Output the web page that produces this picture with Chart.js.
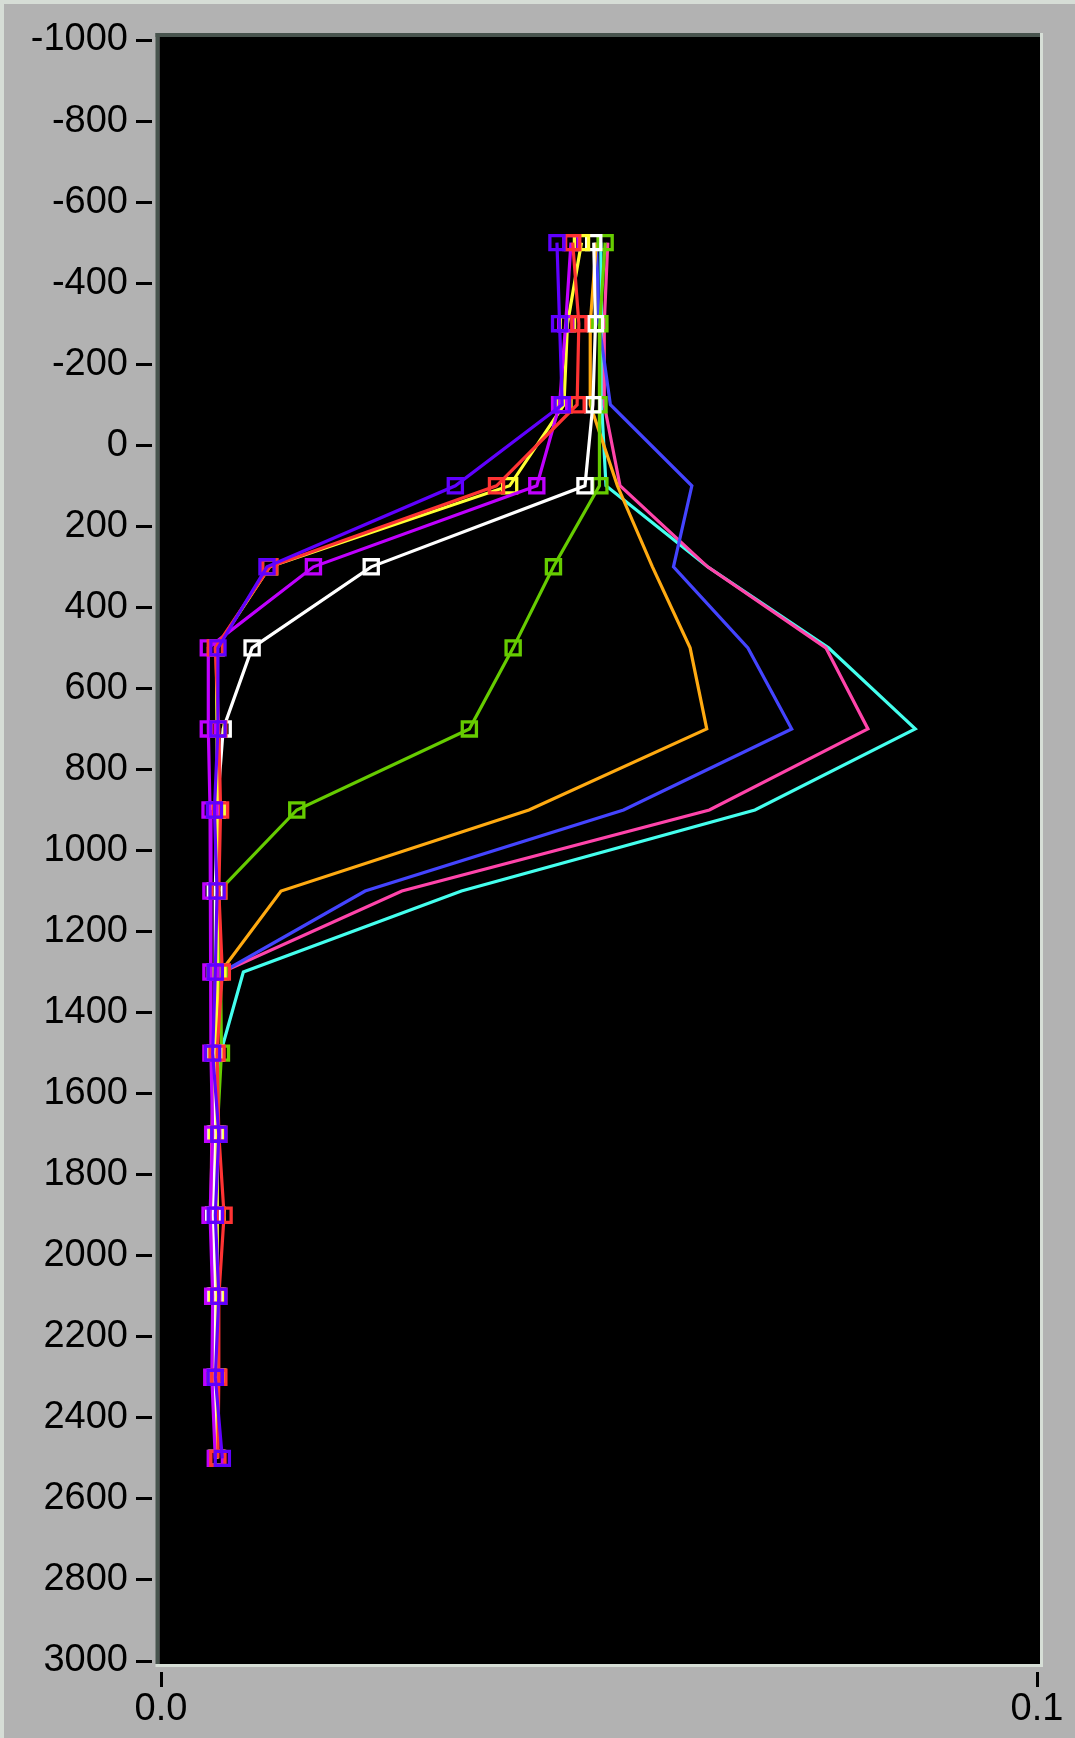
<!DOCTYPE html>
<html>
<head>
<meta charset="utf-8">
<script src="https://cdn.jsdelivr.net/npm/chart.js@4.4.1/dist/chart.umd.min.js"></script>
<style>
  html, body { margin: 0; padding: 0; background: #b2b2b2; }
  canvas { display: block; }
</style>
</head>
<body>
<canvas id="profile" width="1075" height="1738"></canvas>
<script>
// Depth stations (vertical axis, grows downward)
const depths = [-500, -300, -100, 100, 300, 500, 700, 900, 1100, 1300, 1500, 1700, 1900, 2100, 2300, 2500];

// Profiles drawn with square markers
const violetProfile  = [0.0452, 0.0455, 0.0458, 0.0336, 0.0121, 0.0065, 0.0065, 0.0061, 0.0064, 0.0062, 0.0059, 0.0066, 0.0062, 0.0066, 0.0062, 0.0070];
const magentaProfile = [0.0468, 0.0462, 0.0455, 0.0429, 0.0174, 0.0054, 0.0054, 0.0056, 0.0057, 0.0057, 0.0057, 0.0059, 0.0056, 0.0059, 0.0058, 0.0062];
const redProfile     = [0.0470, 0.0477, 0.0475, 0.0383, 0.0124, 0.0062, 0.0066, 0.0068, 0.0066, 0.0070, 0.0064, 0.0066, 0.0072, 0.0066, 0.0066, 0.0065];
const yellowProfile  = [0.0480, 0.0464, 0.0460, 0.0398, 0.0124, 0.0063, 0.0064, 0.0064, 0.0064, 0.0065, 0.0063, 0.0064, 0.0064, 0.0064, 0.0065, 0.0064];
const whiteProfile   = [0.0494, 0.0496, 0.0493, 0.0484, 0.0240, 0.0104, 0.0071, 0.0064, 0.0062, 0.0062, 0.0062, 0.0062, 0.0060, 0.0062, 0.0062, 0.0063];
const greenProfile   = [0.0507, 0.0501, 0.0500, 0.0501, 0.0448, 0.0402, 0.0352, 0.0155, 0.0066, 0.0068, 0.0069, 0.0064, 0.0063, 0.0064, 0.0064, 0.0064];

// Profiles drawn as plain lines
const orangeProfile  = [0.0497, 0.0490, 0.0490, 0.0521, 0.0561, 0.0604, 0.0623, 0.0420, 0.0137, 0.0068, 0.0059, 0.0060, 0.0061, 0.0062, 0.0060, 0.0063];
const blueProfile    = [0.0497, 0.0500, 0.0513, 0.0606, 0.0585, 0.0670, 0.0720, 0.0528, 0.0233, 0.0070, 0.0061, 0.0063, 0.0062, 0.0063, 0.0063, 0.0064];
const pinkProfile    = [0.0510, 0.0506, 0.0506, 0.0524, 0.0624, 0.0759, 0.0807, 0.0626, 0.0275, 0.0070, 0.0060, 0.0058, 0.0057, 0.0060, 0.0062, 0.0063];
const cyanProfile    = [0.0502, 0.0503, 0.0503, 0.0508, 0.0624, 0.0762, 0.0861, 0.0678, 0.0343, 0.0094, 0.0068, 0.0062, 0.0062, 0.0063, 0.0063, 0.0064];

// Axis ticks
const xTickValues = [0, 0.1];
const yTickValues = [-1000, -800, -600, -400, -200, 0, 200, 400, 600, 800, 1000, 1200, 1400,
                     1600, 1800, 2000, 2200, 2400, 2600, 2800, 3000];

const FONT = { family: '"Liberation Sans", Arial, sans-serif', size: 38 };

function profileDataset(values, color, withMarkers) {
  return {
    data: values.map((v, i) => ({ x: v, y: depths[i] })),
    showLine: true,
    borderColor: color,
    borderWidth: 3.2,
    tension: 0,
    pointStyle: 'rect',
    pointRadius: withMarkers ? 10 : 0,
    pointHoverRadius: withMarkers ? 10 : 0,
    pointBorderWidth: 3.3,
    pointBorderColor: color,
    pointBackgroundColor: 'rgba(0,0,0,0)'
  };
}

// Grey panel, bevelled black plot well
const panelFrame = {
  id: 'panelFrame',
  beforeDraw(chart) {
    const { ctx, chartArea: a, width, height } = chart;
    ctx.save();
    ctx.fillStyle = '#b2b2b2';
    ctx.fillRect(0, 0, width, height);
    ctx.fillStyle = '#d6ddd6';
    ctx.fillRect(0, 0, width, 4);
    ctx.fillRect(0, 0, 4, height);
    const L = a.left - 1.5, T = a.top - 3, R = a.right + 3, B = a.bottom + 3;
    ctx.fillStyle = '#48544e';
    ctx.fillRect(L - 4, T - 4, R - L + 4, 4);
    ctx.fillRect(L - 4, T - 4, 4, B - T + 4);
    ctx.fillStyle = '#d6ded6';
    ctx.fillRect(R, T - 4, 3, B - T + 7);
    ctx.fillRect(L - 4, B, R - L + 7, 3);
    ctx.fillStyle = '#000000';
    ctx.fillRect(L, T, R - L, B - T);
    ctx.restore();
  }
};

new Chart(document.getElementById('profile'), {
  type: 'scatter',
  data: {
    datasets: [
      profileDataset(violetProfile,  '#6000ff', true),
      profileDataset(redProfile,     '#ff3333', true),
      profileDataset(magentaProfile, '#c000ff', true),
      profileDataset(yellowProfile,  '#ffff33', true),
      profileDataset(whiteProfile,   '#ffffff', true),
      profileDataset(greenProfile,   '#66cc00', true),
      profileDataset(orangeProfile,  '#ffaa11', false),
      profileDataset(blueProfile,    '#4444ff', false),
      profileDataset(pinkProfile,    '#ff44aa', false),
      profileDataset(cyanProfile,    '#44ffee', false)
    ]
  },
  options: {
    responsive: false,
    animation: false,
    devicePixelRatio: 1,
    layout: { padding: { left: 0, top: 40, right: 38, bottom: 0 } },
    plugins: { legend: { display: false }, tooltip: { enabled: false } },
    events: [],
    scales: {
      x: {
        type: 'linear',
        position: 'bottom',
        min: 0,
        max: 0.1,
        afterBuildTicks: s => { s.ticks = xTickValues.map(v => ({ value: v })); },
        afterFit: s => { s.height = 77; },
        border: { display: false },
        grid: {
          drawOnChartArea: false,
          drawTicks: true,
          tickLength: 26,
          tickWidth: 3,
          tickColor: '#000000',
          tickBorderDash: [15, 11],
          tickBorderDashOffset: 15
        },
        ticks: {
          color: '#000000',
          font: FONT,
          padding: 0,
          maxRotation: 0,
          autoSkip: false,
          callback: v => Number(v).toFixed(1)
        }
      },
      y: {
        type: 'linear',
        reverse: true,
        min: -1000,
        max: 3000,
        afterBuildTicks: s => { s.ticks = yTickValues.map(v => ({ value: v })); },
        afterFit: s => { s.width = 161; },
        border: { display: false },
        grid: {
          drawOnChartArea: false,
          drawTicks: true,
          tickLength: 25,
          tickWidth: 3,
          tickColor: '#000000',
          tickBorderDash: [16, 100]
        },
        ticks: {
          color: '#000000',
          font: FONT,
          padding: 8,
          autoSkip: false,
          callback: v => String(v)
        }
      }
    }
  },
  plugins: [panelFrame]
});
</script>
</body>
</html>
